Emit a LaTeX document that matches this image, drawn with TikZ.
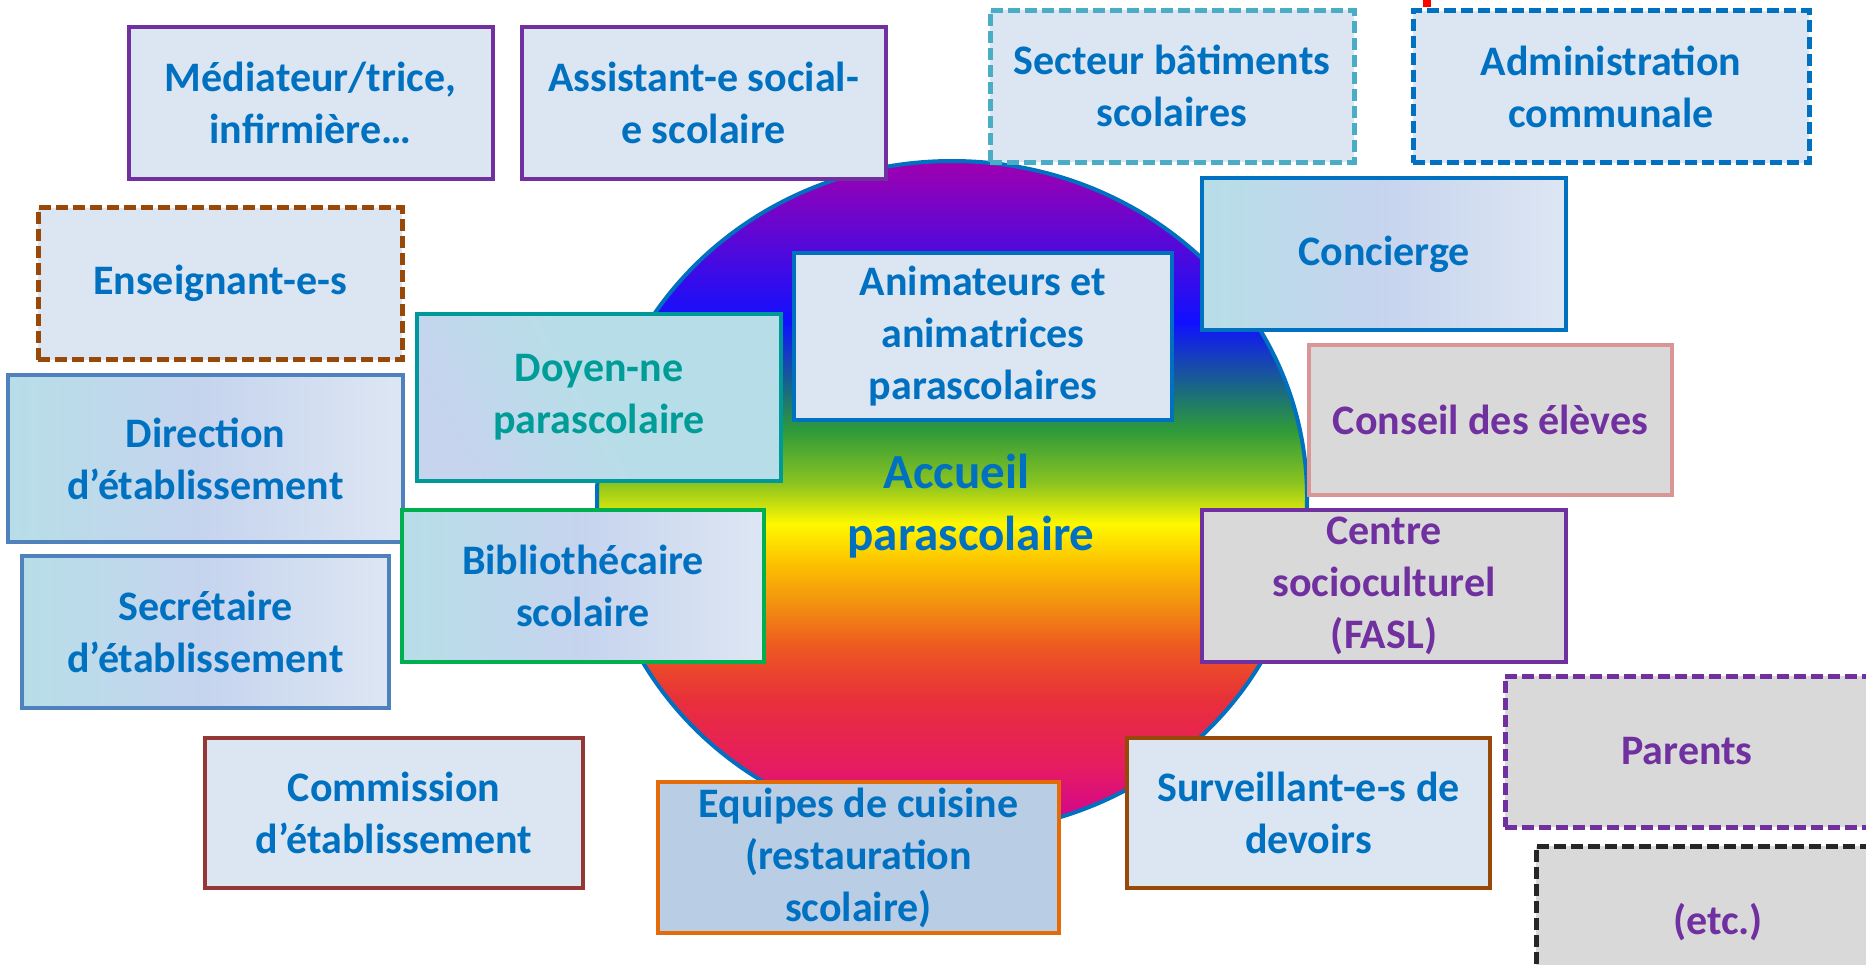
\documentclass[tikz,border=0pt]{standalone}
\usepackage{fontspec}
\setmainfont{Carlito}
\usepackage{xcolor}

\definecolor{txtblue}{HTML}{0070C0}
\definecolor{txtteal}{HTML}{009C98}
\definecolor{txtpurple}{HTML}{7030A0}
\definecolor{boxfill}{HTML}{DCE6F2}
\definecolor{greyfill}{HTML}{D9D9D9}
\definecolor{cuisinefill}{HTML}{B9CDE5}
\definecolor{gradA}{HTML}{B7DEE8}
\definecolor{gradB}{HTML}{C6D4EE}
\definecolor{gradC}{HTML}{DDE6F3}
\definecolor{lnpurple}{HTML}{7030A0}
\definecolor{lncyan}{HTML}{4BACC6}
\definecolor{lnblue}{HTML}{0070C0}
\definecolor{lnbrown}{HTML}{984807}
\definecolor{lnteal}{HTML}{009999}
\definecolor{lnpink}{HTML}{D99694}
\definecolor{lnsteel}{HTML}{4F81BD}
\definecolor{lngreen}{HTML}{00B050}
\definecolor{lnred}{HTML}{953735}
\definecolor{lnorange}{HTML}{E36C09}
\definecolor{lnblack}{HTML}{262626}
% rainbow of the circle
\definecolor{rbA}{HTML}{A000B0}
\definecolor{rbB}{HTML}{1010FF}
\definecolor{rbC}{HTML}{1A6A80}
\definecolor{rbD}{HTML}{2E9A3A}
\definecolor{rbE}{HTML}{8CC420}
\definecolor{rbF}{HTML}{FFF800}
\definecolor{rbG}{HTML}{FCC000}
\definecolor{rbH}{HTML}{F39010}
\definecolor{rbI}{HTML}{EE5A20}
\definecolor{rbJ}{HTML}{E8303A}
\definecolor{rbK}{HTML}{E61C60}
\definecolor{rbL}{HTML}{CC0099}
\pgfdeclareverticalshading{rainbow}{100bp}{color(0bp)=(rbL); color(25bp)=(rbL); color(30bp)=(rbK); color(35bp)=(rbJ); color(39bp)=(rbI); color(42bp)=(rbH); color(45bp)=(rbG); color(48bp)=(rbF); color(51bp)=(rbE); color(55bp)=(rbD); color(58bp)=(rbC); color(63bp)=(rbB); color(75bp)=(rbA); color(100bp)=(rbA)}

\newcommand\boxfont{\fontsize{21}{26}\selectfont\bfseries}
\newcommand\accfont{\fontsize{24.5}{31}\selectfont\bfseries}

\begin{document}
\begin{tikzpicture}[x=0.5pt,y=0.5pt,yscale=-1,xscale=1,
  box/.style={draw, line width=2pt, rectangle, minimum width=182pt, minimum height=76pt, inner sep=0pt, align=center, font=\boxfont, text=txtblue},
  dashbox/.style={box, line width=2.5pt, dash pattern={on 6pt off 2.5pt}},
  flatbox/.style={fill=boxfill},
  greybox/.style={fill=greyfill, text=txtpurple},
  gradbox/.style={left color=gradA, right color=gradC, middle color=gradB}]
\useasboundingbox (0,0) rectangle (1866,964);

%Shape: Circle
\shadedraw [shading=rainbow, draw=lnblue, line width=2pt] (952,497) ellipse [x radius=355, y radius=336];
% Text Node
\node [font=\accfont, text=txtblue, align=center] (accueil) at (971,506) {Accueil\hspace*{0.6em}\\parascolaire};

%Red mark
\fill [red] (1423,0) rectangle (1431,7);

% Top row
\node [box, flatbox, draw=lnpurple] (mediateur) at (310.5,102.5) {Médiateur/trice,\\infirmière…};
\node [box, flatbox, draw=lnpurple] (assistant) at (703.5,102.5) {Assistant-e social-\\e scolaire};
\node [dashbox, flatbox, draw=lncyan] (batiments) at (1172,86) {Secteur bâtiments\\scolaires};
\node [dashbox, flatbox, draw=lnblue, minimum width=198pt] (administration) at (1611,86.5) {Administration\\communale};

% Left side
\node [dashbox, flatbox, draw=lnbrown] (enseignants) at (220,283.5) {Enseignant-e-s};
\node [box, gradbox, draw=lnsteel, minimum width=197.5pt, minimum height=83.5pt] (direction) at (205.5,458.5) {Direction\\d’établissement};
\node [box, gradbox, draw=lnsteel, minimum width=183.5pt] (secretaire) at (205.5,631.5) {Secrétaire\\d’établissement};
\node [box, flatbox, draw=lnred, minimum width=189pt, minimum height=75pt] (commission) at (394,813) {Commission\\d’établissement};

% Inner boxes
\node [box, left color=gradB, right color=gradA, middle color=gradA, shading angle=120, draw=lnteal, text=txtteal, minimum height=83.5pt] (doyen) at (599,397.5) {Doyen-ne\\parascolaire};
\node [box, flatbox, draw=lnblue, minimum width=189pt, minimum height=83.5pt] (animateurs) at (983,336.5) {Animateurs et\\animatrices\\parascolaires};
\node [box, gradbox, draw=lngreen, minimum width=181pt] (bibliothecaire) at (583,586) {Bibliothécaire\\scolaire};
\node [box, draw=lnorange, fill=cuisinefill, minimum width=200.5pt, minimum height=75.5pt] (cuisine) at (858.5,857.5) {Equipes de cuisine\\(restauration\\scolaire)};

% Right side
\node [box, gradbox, draw=lnblue] (concierge) at (1384,254) {Concierge};
\node [box, greybox, draw=lnpink, minimum width=181.5pt, minimum height=75pt] (conseil) at (1490.5,420) {Conseil des élèves};
\node [box, greybox, draw=lnpurple] (centre) at (1384,586) {Centre\\socioculturel\\(FASL)};
\node [box, flatbox, draw=lnbrown, minimum width=181.5pt, minimum height=75pt] (surveillants) at (1308.5,813) {Surveillant-e-s de\\devoirs};
\node [dashbox, greybox, draw=lnpurple, minimum height=75.5pt] (parents) at (1687,751.5) {Parents};
\node [dashbox, greybox, draw=lnblack] (etc) at (1718,922) {(etc.)};

\end{tikzpicture}
\end{document}
